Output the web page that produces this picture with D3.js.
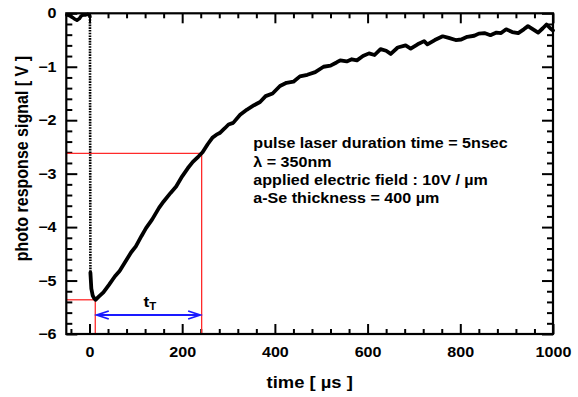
<!DOCTYPE html>
<html>
<head>
<meta charset="utf-8">
<script src="https://cdn.jsdelivr.net/npm/d3@7"></script>
<style>
  html, body { margin: 0; padding: 0; background: #fff; }
  svg { display: block; }
  text { font-family: "Liberation Sans", Arial, sans-serif; font-weight: bold; fill: #000; }
</style>
</head>
<body>
<script>
// ---- data ----
const baselineTime   = [-49, -44, -38, -33, -27, -22, -18, -13, -8, -4, 0, 1];
const baselineSignal = [-0.03, -0.04, -0.07, -0.1, -0.13, -0.1, -0.05, -0.03, -0.03, -0.02, -0.03, -0.06];

const dropTime   = [1, 2];
const dropSignal = [-0.06, -4.85];

const decayTime   = [2, 4, 7, 10, 13, 20, 30, 42, 55, 65, 78, 90, 100, 112, 122, 135, 150, 160, 175, 187, 200, 212, 223, 235, 244, 255, 265, 274, 281, 292, 300, 310, 325, 340, 355, 368, 380, 395, 411, 425, 440, 454, 470, 487, 505, 520, 533, 541, 555, 566, 577, 590, 603, 615, 628, 640, 650, 665, 682, 693, 708, 722, 729, 745, 762, 775, 790, 802, 815, 830, 840, 852, 865, 878, 888, 899, 912, 925, 937, 946, 957, 968, 978, 986, 994, 1000];
const decaySignal = [-4.85, -5.15, -5.28, -5.33, -5.36, -5.3, -5.22, -5.08, -4.92, -4.82, -4.64, -4.47, -4.36, -4.17, -4.02, -3.86, -3.64, -3.52, -3.36, -3.24, -3.05, -2.9, -2.78, -2.68, -2.6, -2.45, -2.33, -2.27, -2.24, -2.15, -2.08, -2.05, -1.9, -1.8, -1.72, -1.66, -1.55, -1.5, -1.36, -1.3, -1.28, -1.18, -1.15, -1.1, -1.0, -0.98, -0.92, -0.88, -0.9, -0.86, -0.88, -0.8, -0.75, -0.78, -0.67, -0.7, -0.76, -0.64, -0.6, -0.66, -0.58, -0.52, -0.58, -0.5, -0.43, -0.46, -0.5, -0.49, -0.44, -0.42, -0.38, -0.37, -0.41, -0.36, -0.37, -0.3, -0.35, -0.37, -0.3, -0.24, -0.3, -0.36, -0.28, -0.21, -0.28, -0.32];

const xMajorTicks = [0, 200, 400, 600, 800, 1000];
const xMinorTicks = [-40, 40, 80, 120, 160, 240, 280, 320, 360, 440, 480, 520, 560, 640, 680, 720, 760, 840, 880, 920, 960];
const yMajorTicks = [0, -1, -2, -3, -4, -5, -6];
const yMinorTicks = [-0.2, -0.4, -0.6, -0.8, -1.2, -1.4, -1.6, -1.8, -2.2, -2.4, -2.6, -2.8, -3.2, -3.4, -3.6, -3.8, -4.2, -4.4, -4.6, -4.8, -5.2, -5.4, -5.6, -5.8];

const transitStart = 12.5, transitEnd = 242;
const minSignal = -5.36, transitSignal = -2.62;

const annotationLines = [
  "pulse laser duration time = 5nsec",
  "λ = 350nm",
  "applied electric field : 10V / µm",
  "a-Se thickness = 400 µm"
];
const xTitle = "time [ µs ]";
const yTitle = "photo response signal [ V ]";

// ---- layout ----
const W = 578, H = 397;
const L = 66.3, R = 553, T = 13.3, B = 334;
const SX = 1.15; // horizontal glyph stretch seen in the reference

const svg = d3.select("body").append("svg").attr("width", W).attr("height", H);
const x = d3.scaleLinear().domain([-50, 1000]).range([L, R]);
const y = d3.scaleLinear().domain([-6, 0]).range([B, T]);

// ticks (inward) via axes
function tickAxis(axisFn, scale, vals, size, transform) {
  const g = svg.append("g").attr("transform", transform)
    .call(axisFn(scale).tickValues(vals).tickSize(size).tickFormat(""));
  g.select(".domain").remove();
  g.selectAll(".tick line").attr("stroke", "#000").attr("stroke-width", 2);
  return g;
}
tickAxis(d3.axisBottom, x, xMajorTicks, -10, `translate(0,${B})`);
tickAxis(d3.axisBottom, x, xMinorTicks, -5, `translate(0,${B})`);
tickAxis(d3.axisTop, x, xMajorTicks, -10, `translate(0,${T})`);
tickAxis(d3.axisTop, x, xMinorTicks, -5, `translate(0,${T})`);
tickAxis(d3.axisLeft, y, yMajorTicks, -11, `translate(${L},0)`);
tickAxis(d3.axisLeft, y, yMinorTicks, -6, `translate(${L},0)`);
tickAxis(d3.axisRight, y, yMajorTicks, -11, `translate(${R},0)`);
tickAxis(d3.axisRight, y, yMinorTicks, -6, `translate(${R},0)`);

// tick labels
const xl = svg.append("g").attr("transform", `translate(0,${B})`)
  .call(d3.axisBottom(x).tickValues(xMajorTicks).tickSize(0).tickPadding(12.7).tickFormat(d3.format("d")));
xl.select(".domain").remove();
xl.selectAll("text").attr("font-size", 14).attr("font-family", "Liberation Sans, Arial, sans-serif")
  .attr("font-weight", "bold").attr("fill", "#000").attr("transform", `scale(${SX},1)`);

const yl = svg.append("g").attr("transform", `translate(${L},0)`)
  .call(d3.axisLeft(y).tickValues(yMajorTicks).tickSize(0).tickPadding(8.5).tickFormat(d3.format("d")));
yl.select(".domain").remove();
yl.selectAll("text").attr("font-size", 14).attr("font-family", "Liberation Sans, Arial, sans-serif")
  .attr("font-weight", "bold").attr("fill", "#000").attr("transform", `scale(${SX},1)`);

// red guide lines
const red = "#ff2a2a";
const guides = [
  [[-50, minSignal], [transitStart, minSignal]],
  [[transitStart, minSignal], [transitStart, -6]],
  [[-50, transitSignal], [transitEnd, transitSignal]],
  [[transitEnd, transitSignal], [transitEnd, -6]]
];
guides.forEach(g => {
  svg.append("line")
    .attr("x1", x(g[0][0])).attr("y1", y(g[0][1]))
    .attr("x2", x(g[1][0])).attr("y2", y(g[1][1]))
    .attr("stroke", red).attr("stroke-width", 1.3);
});

// curve
const line = d3.line().x(d => x(d[0])).y(d => y(d[1]));
svg.append("path").datum(baselineTime.map((t, i) => [t, baselineSignal[i]]))
  .attr("d", line).attr("fill", "none").attr("stroke", "#000").attr("stroke-width", 3.5)
  .attr("stroke-linejoin", "round").attr("stroke-linecap", "round");
svg.append("path").datum(dropTime.map((t, i) => [t, dropSignal[i]]))
  .attr("d", line).attr("fill", "none").attr("stroke", "#000").attr("stroke-width", 2.6)
  .attr("stroke-dasharray", "1.6,1.1");
svg.append("path").datum(decayTime.map((t, i) => [t, decaySignal[i]]))
  .attr("d", line).attr("fill", "none").attr("stroke", "#000").attr("stroke-width", 3.8)
  .attr("stroke-linejoin", "round").attr("stroke-linecap", "round");

// frame
svg.append("rect").attr("x", L).attr("y", T).attr("width", R - L).attr("height", B - T)
  .attr("fill", "none").attr("stroke", "#000").attr("stroke-width", 2.2);

// blue double arrow
const blue = "#1a1aff";
const ay = 315;
const ax1 = x(transitStart) + 1.5, ax2 = x(transitEnd) - 1.5;
svg.append("line").attr("x1", ax1).attr("x2", ax2).attr("y1", ay).attr("y2", ay)
  .attr("stroke", blue).attr("stroke-width", 2);
svg.append("path").attr("d", `M${ax1 + 12},${ay - 4} L${ax1},${ay} L${ax1 + 12},${ay + 4}`)
  .attr("fill", "none").attr("stroke", blue).attr("stroke-width", 1.8);
svg.append("path").attr("d", `M${ax2 - 12},${ay - 4} L${ax2},${ay} L${ax2 - 12},${ay + 4}`)
  .attr("fill", "none").attr("stroke", blue).attr("stroke-width", 1.8);

// t_T label
const tt = svg.append("text").attr("transform", `translate(${(ax1 + ax2) / 2 - 5},306.5) scale(${SX},1)`)
  .attr("font-size", 15);
tt.append("tspan").text("t");
tt.append("tspan").attr("font-size", 10).attr("dy", 3).text("T");

// annotation
annotationLines.forEach((s, i) => {
  svg.append("text").attr("transform", `translate(253.3,${148.3 + i * 18.3}) scale(${SX},1)`)
    .attr("font-size", 14).text(s);
});

// axis titles
svg.append("text").attr("transform", `translate(${(L + R) / 2},387.5) scale(${SX},1)`)
  .attr("text-anchor", "middle").attr("font-size", 16).text(xTitle);
svg.append("text").attr("transform", `translate(28,${(T + B) / 2 - 15}) scale(${SX},1) rotate(-90)`)
  .attr("text-anchor", "middle").attr("font-size", 16).text(yTitle);
</script>
</body>
</html>
